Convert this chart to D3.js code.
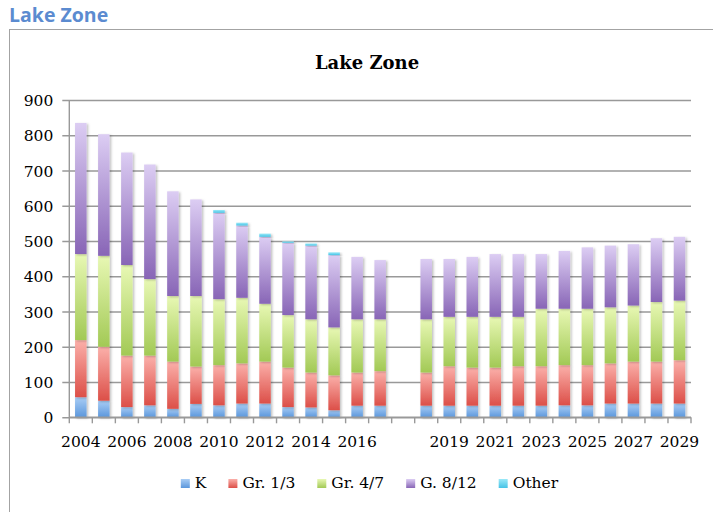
<!DOCTYPE html>
<html>
<head>
<meta charset="utf-8">
<script src="https://cdn.jsdelivr.net/npm/d3@7"></script>
<style>
  body { margin: 0; background: #fff; }
  svg { display: block; }
</style>
</head>
<body>
<div id="chart"></div>
<script>
// categories (blank slot between 2017 and 2018 is a real empty category)
var years = ["2004", "2005", "2006", "2007", "2008", "2009", "2010", "2011", "2012", "2013",
  "2014", "2015", "2016", "2017", "", "2018", "2019", "2020", "2021", "2022", "2023",
  "2024", "2025", "2026", "2027", "2028", "2029"];

// series values
var kVals    = [57, 47, 29, 34, 24, 38, 34, 39, 39, 29, 28, 20, 33, 33, null,
  33, 33, 33, 33, 33, 33, 34, 34, 39, 39, 39, 39];
var gr13Vals = [162, 153, 146, 141, 134, 106, 114, 114, 119, 112, 99, 99, 94, 98, null,
  94, 112, 108, 108, 112, 112, 114, 114, 114, 119, 119, 123];
var gr47Vals = [244, 258, 257, 217, 186, 200, 187, 186, 164, 149, 151, 136, 151, 147, null,
  151, 140, 144, 144, 140, 163, 160, 160, 159, 159, 169, 169];
var g812Vals = [372, 345, 319, 325, 297, 274, 245, 205, 190, 205, 209, 205, 177, 168, null,
  171, 164, 170, 178, 178, 155, 164, 174, 175, 174, 181, 181];
var otherVals = [0, 0, 0, 0, 0, 0, 8, 8, 9, 4, 6, 8, 0, 0, null,
  0, 0, 0, 0, 0, 0, 0, 0, 0, 0, 0, 0];

var seriesNames = ["K", "Gr. 1/3", "Gr. 4/7", "G. 8/12", "Other"];
var yTicks = [0, 100, 200, 300, 400, 500, 600, 700, 800, 900];

// gradient stops per series (light top, darker bottom)
var seriesColors = [
  ["#a9cdf5", "#5b97dc"],
  ["#fbb0aa", "#dc4f48"],
  ["#e8f8b4", "#a2c955"],
  ["#dccdf3", "#8865b6"],
  ["#9ce9f8", "#46c3e6"]
];

var svgWidth = 713, svgHeight = 512;
var margin = { top: 100, left: 69.3, right: 22, bottom: 94.7 };
var chartWidth = svgWidth - margin.left - margin.right;
var chartHeight = svgHeight - margin.top - margin.bottom;

var serif = "'DejaVu Serif', serif";

var svg = d3.select("#chart").append("svg")
  .attr("width", svgWidth)
  .attr("height", svgHeight);

var defs = svg.append("defs");
seriesColors.forEach(function(c, i) {
  var g = defs.append("linearGradient")
    .attr("id", "grad" + i)
    .attr("x1", 0).attr("y1", 0).attr("x2", 0).attr("y2", 1);
  g.append("stop").attr("offset", "0%").attr("stop-color", c[0]);
  g.append("stop").attr("offset", "100%").attr("stop-color", c[1]);
});
var shadow = defs.append("filter").attr("id", "shadow")
  .attr("x", "-30%").attr("y", "-10%").attr("width", "170%").attr("height", "130%");
shadow.append("feDropShadow")
  .attr("dx", 1.5).attr("dy", 1).attr("stdDeviation", 1)
  .attr("flood-color", "#000").attr("flood-opacity", 0.25);

// outer chart frame
svg.append("rect")
  .attr("x", 9.5).attr("y", 29.5)
  .attr("width", 760).attr("height", 520)
  .attr("fill", "none")
  .attr("stroke", "#a3a3a3");

// page header
svg.append("text")
  .attr("x", 9)
  .attr("y", 21.5)
  .attr("font-family", "'Open Sans', sans-serif")
  .attr("font-weight", 700)
  .attr("font-size", "19.5px")
  .attr("fill", "#5b8bd0")
  .text("Lake Zone");

// chart title
svg.append("text")
  .attr("x", 367)
  .attr("y", 69)
  .attr("text-anchor", "middle")
  .attr("font-family", serif)
  .attr("font-weight", 700)
  .attr("font-size", "18px")
  .attr("fill", "#000")
  .text("Lake Zone");

var chartGroup = svg.append("g")
  .attr("transform", `translate(${margin.left}, ${margin.top})`);

var xScale = d3.scaleBand()
  .domain(years)
  .range([0, chartWidth])
  .paddingInner(0.5)
  .paddingOuter(0.25);

var yScale = d3.scaleLinear()
  .domain([0, 900])
  .range([chartHeight, 0]);

// gridlines + y ticks
var leftAxis = d3.axisLeft(yScale)
  .tickValues(yTicks)
  .tickSize(-chartWidth)
  .tickPadding(16)
  .tickSizeOuter(0);

var yAxisG = chartGroup.append("g").call(leftAxis);
yAxisG.select(".domain").remove();
yAxisG.selectAll(".tick line")
  .attr("x1", -7)
  .attr("stroke", "#999")
  .attr("stroke-width", 1.4);
yAxisG.selectAll(".tick text")
  .attr("font-family", serif)
  .attr("font-size", "15.5px")
  .attr("fill", "#000")
  .attr("dy", "0.36em");

// y axis line
chartGroup.append("line")
  .attr("x1", 0).attr("x2", 0)
  .attr("y1", 0).attr("y2", chartHeight)
  .attr("stroke", "#999")
  .attr("stroke-width", 1.4);

// stack data
var table = years.map(function(y, i) {
  return { year: y, K: kVals[i], G13: gr13Vals[i], G47: gr47Vals[i], G812: g812Vals[i], O: otherVals[i] };
}).filter(function(d) { return d.K !== null; });

var stack = d3.stack().keys(["K", "G13", "G47", "G812", "O"]);
var stacked = stack(table);

var layers = chartGroup.selectAll(".layer")
  .data(stacked)
  .enter()
  .append("g")
  .attr("class", "layer")
  .attr("fill", (d, i) => `url(#grad${i})`);

layers.selectAll("rect")
  .data(d => d.filter(p => p[1] - p[0] > 0))
  .enter()
  .append("rect")
  .attr("x", d => xScale(d.data.year))
  .attr("width", xScale.bandwidth())
  .attr("y", d => yScale(d[1]))
  .attr("height", d => yScale(d[0]) - yScale(d[1]))
  .attr("filter", "url(#shadow)");

// x axis: ticks between categories, labels on every other category
var step = xScale.step();
var boundaries = d3.range(years.length + 1);
chartGroup.append("g")
  .selectAll("line")
  .data(boundaries)
  .enter()
  .append("line")
  .attr("x1", i => i * step)
  .attr("x2", i => i * step)
  .attr("y1", chartHeight)
  .attr("y2", chartHeight + 6)
  .attr("stroke", "#999")
  .attr("stroke-width", 1.4);

chartGroup.append("line")
  .attr("x1", 0).attr("x2", chartWidth)
  .attr("y1", chartHeight).attr("y2", chartHeight)
  .attr("stroke", "#999")
  .attr("stroke-width", 1.4);

chartGroup.append("g")
  .selectAll("text")
  .data(years.filter((y, i) => i % 2 === 0 && y !== ""))
  .enter()
  .append("text")
  .attr("x", d => xScale(d) + xScale.bandwidth() / 2)
  .attr("y", chartHeight + 29.5)
  .attr("text-anchor", "middle")
  .attr("font-family", serif)
  .attr("font-size", "15.5px")
  .attr("fill", "#000")
  .text(d => d);

// legend
var legend = svg.append("g");
var legendItems = legend.selectAll("g")
  .data(seriesNames)
  .enter()
  .append("g");

legendItems.append("rect")
  .attr("width", 9).attr("height", 9)
  .attr("y", -9)
  .attr("fill", (d, i) => `url(#grad${i})`);

legendItems.append("text")
  .attr("x", 14)
  .attr("font-family", serif)
  .attr("font-size", "15.5px")
  .attr("fill", "#000")
  .text(d => d);

var gap = 22;
var xPos = 0;
legendItems.each(function() {
  var g = d3.select(this);
  g.attr("transform", `translate(${xPos}, 0)`);
  xPos += 14 + g.select("text").node().getComputedTextLength() + gap;
});
var legendWidth = xPos - gap;
legend.attr("transform", `translate(${369.5 - legendWidth / 2}, 488)`);
</script>
</body>
</html>
